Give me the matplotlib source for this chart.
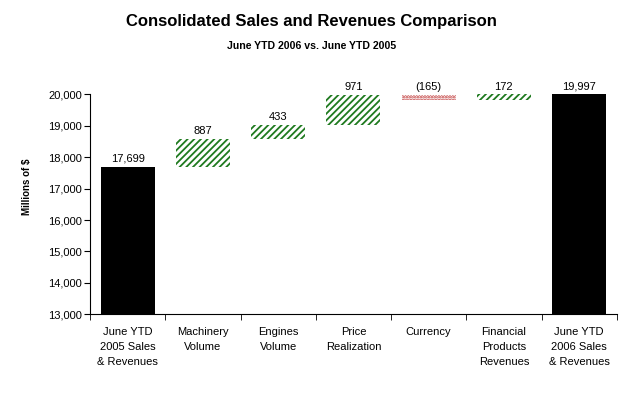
import numpy as np
import matplotlib
matplotlib.use("Agg")
import matplotlib.pyplot as plt

plt.rcParams['font.family'] = ['Liberation Sans', 'DejaVu Sans']
plt.rcParams['hatch.linewidth'] = 1.3

categories = ["June YTD\n2005 Sales\n& Revenues", "Machinery\nVolume", "Engines\nVolume",
              "Price\nRealization", "Currency", "Financial\nProducts\nRevenues",
              "June YTD\n2006 Sales\n& Revenues"]
start_total = 17699
changes = [887, 433, 971, -165, 172]
end_total = 19997
labels = ["17,699", "887", "433", "971", "(165)", "172", "19,997"]

# build waterfall bottoms/heights
bottoms = [13000]
heights = [start_total - 13000]
level = start_total
for c in changes:
    if c >= 0:
        bottoms.append(level)
        heights.append(c)
    else:
        bottoms.append(level + c)
        heights.append(-c)
    level += c
bottoms.append(13000)
heights.append(end_total - 13000)

fig = plt.figure(figsize=(6.23, 4.07), dpi=100)
ax = fig.add_axes([0.1445, 0.2278, 0.8455, 0.5405])
x = np.arange(len(categories))

for i in range(len(categories)):
    if i == 0 or i == len(categories) - 1:
        ax.bar(x[i], heights[i], bottom=bottoms[i], width=0.72, color='black')
    elif changes[i - 1] >= 0:
        ax.bar(x[i], heights[i], bottom=bottoms[i], width=0.72, facecolor='white',
               edgecolor='#1f7a1f', linewidth=0, hatch='/////')
    else:
        ax.bar(x[i], heights[i], bottom=bottoms[i], width=0.72, facecolor='white',
               edgecolor='#c03838', linewidth=0, hatch='......')
    ax.text(x[i], bottoms[i] + heights[i] + 90, labels[i], ha='center', va='bottom', fontsize=8)

ax.set_xlim(-0.5, len(categories) - 0.5)
ax.set_ylim(13000, 20000)
ax.set_yticks(np.arange(13000, 20001, 1000))
ax.set_yticklabels(["{:,}".format(v) for v in range(13000, 20001, 1000)], fontsize=8)
ax.set_xticks(x)
ax.set_xticklabels(categories, fontsize=8, linespacing=1.65, va='top')
ax.tick_params(axis='x', length=0, pad=9)
ax.set_xticks(np.arange(-0.5, len(categories), 1), minor=True)
ax.tick_params(axis='x', which='minor', length=4, direction='out')
ax.tick_params(axis='y', length=4, direction='out', pad=2)
ax.spines['top'].set_visible(False)
ax.spines['right'].set_visible(False)

fig.text(0.044, 0.54, "Millions of $", rotation=90, ha='center', va='center',
         fontsize=7, fontweight='bold')
fig.text(0.5, 0.946, "Consolidated Sales and Revenues Comparison", ha='center', va='center',
         fontsize=12, fontweight='bold')
fig.text(0.5, 0.887, "June YTD 2006 vs. June YTD 2005", ha='center', va='center',
         fontsize=7.6, fontweight='bold')

fig.savefig("out.png", dpi=100)
